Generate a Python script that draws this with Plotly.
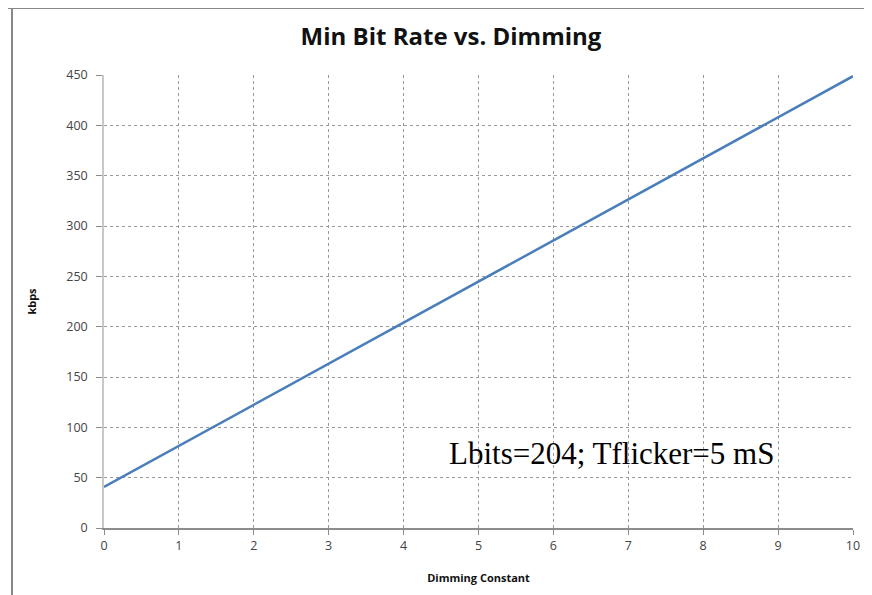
import plotly.graph_objects as go

dimming = [0, 1, 2, 3, 4, 5, 6, 7, 8, 9, 10]
kbps = [40.8, 81.6, 122.4, 163.2, 204, 244.8, 285.6, 326.4, 367.2, 408, 448.8]
x_ticks = [0, 1, 2, 3, 4, 5, 6, 7, 8, 9, 10]
y_ticks = [0, 50, 100, 150, 200, 250, 300, 350, 400, 450]

W, H = 872, 595
OFF = 8  # page offset of the figure in the browser
L, R, T, B = 96, 27, 67, 75
pw, ph = W - L - R, H - T - B

def px(x):  # page pixel -> paper
    return (x - OFF - L) / pw

def py(y):
    return (H - B - (y - OFF)) / ph

fig = go.Figure()
fig.add_trace(go.Scatter(x=dimming, y=kbps, mode="lines",
                         line=dict(color="#4A7EBB", width=2.5), showlegend=False))

fig.update_layout(
    width=W, height=H,
    margin=dict(l=L, r=R, t=T, b=B, autoexpand=False),
    paper_bgcolor="white", plot_bgcolor="white",
    title=dict(text="<b>Min Bit Rate vs. Dimming</b>", x=(451 - OFF) / W, xanchor="center",
               y=1 - (37 - OFF) / H, yanchor="middle",
               font=dict(family="Open Sans, Liberation Sans, sans-serif", size=24, color="#111")),
    xaxis=dict(range=[0, 10], tickvals=x_ticks, showgrid=True, gridcolor="#9A9A9A",
               griddash="dot", gridwidth=1, showline=True, linecolor="#8C8C8C", linewidth=1.5,
               ticks="outside", ticklen=5, tickcolor="#8C8C8C", zeroline=False, automargin=False,
               tickfont=dict(family="Open Sans, sans-serif", size=12.5, color="#444"),
               title=dict(text="<b>Dimming Constant</b>", standoff=22,
                          font=dict(family="Open Sans, sans-serif", size=11, color="#111"))),
    yaxis=dict(range=[0, 450], tickvals=y_ticks, showgrid=True, gridcolor="#9A9A9A",
               griddash="dot", gridwidth=1, showline=True, linecolor="#C8C8C8", linewidth=1.5,
               ticks="outside", ticklen=6, tickcolor="#8C8C8C", zeroline=False, automargin=False,
               ticklabelstandoff=6,
               tickfont=dict(family="Open Sans, sans-serif", size=12.5, color="#444"),
               title=dict(text="<b>kbps</b>", standoff=27,
                          font=dict(family="Open Sans, sans-serif", size=11, color="#111"))),
    annotations=[dict(text="Lbits=204; Tflicker=5 mS", x=px(447), y=py(453), xref="paper",
                      yref="paper", xanchor="left", yanchor="middle", showarrow=False,
                      font=dict(family="Liberation Serif, Times New Roman, serif", size=31,
                                color="black"))],
    shapes=[
        dict(type="line", xref="paper", yref="paper", x0=px(12), x1=px(12), y0=py(8), y1=py(600),
             line=dict(color="#888", width=2)),
        dict(type="line", xref="paper", yref="paper", x0=px(8), x1=px(880), y0=py(8), y1=py(8),
             line=dict(color="#888", width=2)),
    ],
)

fig.write_html("out.html")
